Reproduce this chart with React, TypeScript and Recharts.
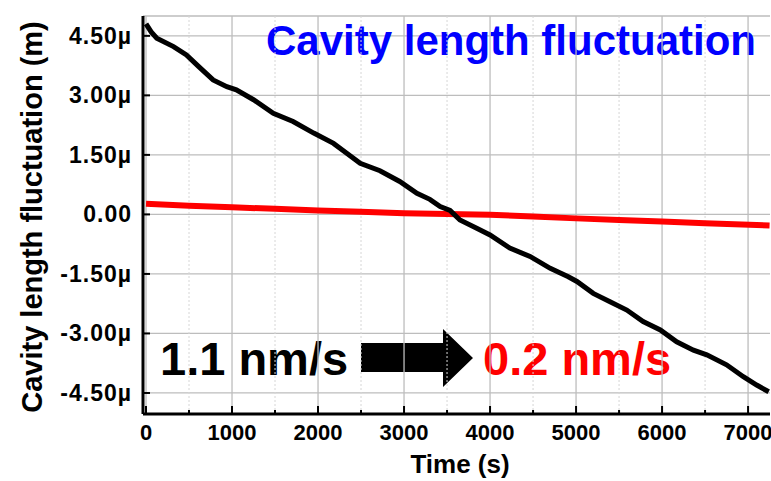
import React from 'react';
import { LineChart, Line, XAxis, YAxis, CartesianGrid, ReferenceLine } from 'recharts';

// time (s) and cavity length (µm)
const blackTime = [
  0, 60, 125, 320, 470, 610, 780, 940, 1050, 1250, 1480, 1710, 1950, 2180, 2330,
  2490, 2720, 2950, 3150, 3300, 3420, 3535, 3650, 3845, 4000, 4230, 4465, 4700,
  4910, 5010, 5200, 5395, 5590, 5780, 5980, 6170, 6365, 6520, 6750, 6945, 7100, 7240,
];
const blackValue = [
  4.8, 4.6, 4.44, 4.23, 4.02, 3.73, 3.39, 3.22, 3.14, 2.89, 2.55, 2.34, 2.05, 1.79, 1.55,
  1.29, 1.1, 0.83, 0.53, 0.38, 0.2, 0.1, -0.14, -0.35, -0.52, -0.85, -1.06, -1.36,
  -1.57, -1.69, -1.99, -2.2, -2.41, -2.7, -2.91, -3.21, -3.42, -3.54, -3.79, -4.09, -4.3, -4.47,
];
const redTime = [0, 500, 1000, 1500, 2000, 2500, 3000, 3500, 4000, 4500, 5000, 5500, 6000, 6500, 7250];
const redValue = [0.27, 0.22, 0.18, 0.14, 0.1, 0.07, 0.03, 0.01, -0.01, -0.05, -0.1, -0.14, -0.18, -0.22, -0.28];

const majorTimeTicks = [0, 1000, 2000, 3000, 4000, 5000, 6000, 7000];
const minorTimeTicks = [500, 1500, 2500, 3500, 4500, 5500, 6500];
const allTimeTicks = [0, 500, 1000, 1500, 2000, 2500, 3000, 3500, 4000, 4500, 5000, 5500, 6000, 6500, 7000];
const valueTicks = [-4.5, -3, -1.5, 0, 1.5, 3, 4.5];

const xDomain = [-35, 7255];
const yDomain = [-5.03, 5.0];

const blackData = blackTime.map((t, i) => ({ t, v: blackValue[i] }));
const redData = redTime.map((t, i) => ({ t, v: redValue[i] }));

const FONT = '"Liberation Sans", Arial, sans-serif';

const fmtValue = (v: number) => (v === 0 ? '0.00' : v.toFixed(2) + 'µ');

const TimeTick = (props: any) => {
  const { x, y, payload } = props;
  const major = payload.value % 1000 === 0;
  return (
    <g>
      <line x1={x} x2={x} y1={y} y2={y - (major ? 8 : 4)} stroke="#000" strokeWidth={2} />
      {major && (
        <text x={x} y={y + 26} textAnchor="middle" fontFamily={FONT} fontWeight="bold" fontSize={22} fill="#000">
          {payload.value}
        </text>
      )}
    </g>
  );
};

const ValueTick = (props: any) => {
  const { x, y, payload } = props;
  return (
    <g>
      <line x1={x} x2={x + 7} y1={y} y2={y} stroke="#000" strokeWidth={2} />
      <text x={x - 11} y={y + 8} textAnchor="end" fontFamily={FONT} fontWeight="bold" fontSize={23} letterSpacing={1} fill="#000">
        {fmtValue(payload.value)}
      </text>
    </g>
  );
};

export default function App() {
  return (
    <div style={{ position: 'absolute', left: 0, top: 0, width: 771, height: 481, background: '#fff' }}>
      <LineChart width={771} height={481} margin={{ top: 16, right: 1, left: 0, bottom: 0 }}>
        <CartesianGrid vertical={false} stroke="#bdbdbd" strokeWidth={1.3} />
        {minorTimeTicks.map((t) => (
          <ReferenceLine key={'m' + t} x={t} stroke="#d6d6d6" strokeDasharray="2 2" strokeWidth={1} />
        ))}
        {majorTimeTicks.map((t) => (
          <ReferenceLine key={'M' + t} x={t} stroke="#bdbdbd" strokeWidth={1.3} />
        ))}
        <XAxis
          dataKey="t"
          type="number"
          domain={xDomain}
          allowDataOverflow
          ticks={allTimeTicks}
          height={67}
          tickSize={0}
          tickMargin={0}
          tickLine={false}
          tick={<TimeTick />}
          axisLine={{ stroke: '#000', strokeWidth: 3 }}
          interval={0}
        />
        <XAxis
          xAxisId="top"
          orientation="top"
          type="number"
          domain={xDomain}
          allowDataOverflow
          ticks={allTimeTicks}
          height={0}
          mirror
          tick={false}
          tickSize={5}
          tickLine={{ stroke: '#000', strokeWidth: 2 }}
          axisLine={{ stroke: '#000', strokeWidth: 2 }}
          interval={0}
        />
        <YAxis
          type="number"
          domain={yDomain}
          allowDataOverflow
          ticks={valueTicks}
          width={143}
          tickSize={0}
          tickMargin={0}
          tickLine={false}
          tick={<ValueTick />}
          axisLine={{ stroke: '#000', strokeWidth: 3 }}
          interval={0}
        />
        <YAxis
          yAxisId="right"
          orientation="right"
          type="number"
          domain={yDomain}
          allowDataOverflow
          ticks={valueTicks}
          width={0}
          mirror
          tick={false}
          tickSize={5}
          tickLine={{ stroke: '#000', strokeWidth: 2 }}
          axisLine={{ stroke: '#000', strokeWidth: 2 }}
          interval={0}
        />
        <Line data={redData} dataKey="v" type="linear" stroke="#ff0000" strokeWidth={6} dot={false} isAnimationActive={false} />
        <Line data={blackData} dataKey="v" type="linear" stroke="#000" strokeWidth={5} dot={false} isAnimationActive={false} />

        <text x={756} y={55} textAnchor="end" fontFamily={FONT} fontWeight="bold" fontSize={42} fill="#0000ff">
          Cavity length fluctuation
        </text>
        <text x={160} y={375} fontFamily={FONT} fontWeight="bold" fontSize={47} fill="#000">
          1.1 nm/s
        </text>
        <polygon points="361,343 443,343 443,329 473,358 443,387 443,372 361,372" fill="#000" />
        <text x={483} y={375} fontFamily={FONT} fontWeight="bold" fontSize={47} fill="#ff0000">
          0.2 nm/s
        </text>
        <text
          x={42}
          y={217}
          transform="rotate(-90 42 217)"
          textAnchor="middle"
          fontFamily={FONT}
          fontWeight="bold"
          fontSize={29}
          fill="#000"
        >
          Cavity length fluctuation (m)
        </text>
        <text x={460} y={473} textAnchor="middle" fontFamily={FONT} fontWeight="bold" fontSize={26} fill="#000">
          Time (s)
        </text>
      </LineChart>
    </div>
  );
}
